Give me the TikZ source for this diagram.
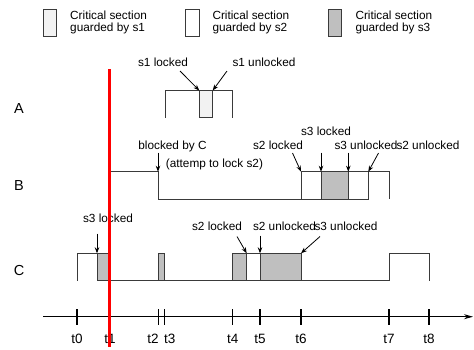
\documentclass[tikz,border=0pt]{standalone}
\usepackage{fontspec}
\setmainfont{Liberation Sans}
\usetikzlibrary{arrows.meta}
\definecolor{wavec}{HTML}{3A3A3A}
\definecolor{sone}{HTML}{F2F2F2}
\definecolor{sthree}{HTML}{BFBFBF}
\begin{document}
\begin{tikzpicture}[x=1pt,y=-1pt,
  wave/.style={draw=wavec, line width=0.9pt},
  crit/.style={draw=wavec, line width=0.9pt},
  lbl/.style={font=\fontsize{11.8}{12}\selectfont, anchor=base, inner sep=0pt},
  rowlbl/.style={font=\fontsize{14.5}{16}\selectfont, anchor=base, inner sep=0pt},
  tlbl/.style={font=\fontsize{13.5}{15}\selectfont, anchor=base, inner sep=0pt},
  legtxt/.style={font=\fontsize{11.8}{12}\selectfont, align=left, anchor=west, inner sep=0pt},
  legbox/.style={draw=wavec, line width=0.9pt, minimum width=13.3pt, minimum height=26.7pt, inner sep=0pt},
  arr/.style={draw=black, line width=0.8pt, -{Stealth[length=6pt,width=4.5pt]}},
  tick/.style={draw=black, line width=1.1pt}
]
\useasboundingbox (0,0) rectangle (474,349);
\fill[white] (0,0) rectangle (474,349);

% legend
\node[legbox, fill=sone] (lb1) at (49.7,22.7) {};
\node[legtxt] (lt1) at (70,22.7) {Critical section\\guarded by s1};
\node[legbox, fill=white] (lb2) at (192.3,22.7) {};
\node[legtxt] (lt2) at (212.3,22.7) {Critical section\\guarded by s2};
\node[legbox, fill=sthree] (lb3) at (334.7,22.7) {};
\node[legtxt] (lt3) at (355.3,22.7) {Critical section\\guarded by s3};

% row labels
\node[rowlbl] (rA) at (19,113.3) {A};
\node[rowlbl] (rB) at (19,190.7) {B};
\node[rowlbl] (rC) at (19,275.3) {C};

% ---- row A
\draw[wave] (165,117.5) -- (165,90.5) -- (232.7,90.5) -- (232.7,117.5);
\draw[crit, fill=sone] (199.3,90.5) rectangle (212.7,117.5);
\coordinate (aL) at (199.3,90.5);
\coordinate (aU) at (212.7,90.5);
\node[lbl] (s1l) at (163,66.7) {s1 locked};
\node[lbl] (s1u) at (264,66.7) {s1 unlocked};
\coordinate (s1ls) at (180,71);
\coordinate (s1us) at (227,71);
\draw[arr] (s1ls) -- (aL);
\draw[arr] (s1us) -- (aU);

% ---- row B
\draw[wave] (110,171.7) -- (158,171.7) -- (158,199) -- (301,199);
\draw[crit, fill=white] (301,171.7) rectangle (321,199);
\draw[crit, fill=sthree] (321,171.7) rectangle (348.3,199);
\draw[crit, fill=white] (348.3,171.7) rectangle (368.3,199);
\draw[wave] (368.3,171.7) -- (389,171.7) -- (389,199);
\node[lbl] (blk) at (172.5,149.3) {blocked by C};
\node[lbl, anchor=base west] (att) at (165.7,167.7) {(attemp to lock s2)};
\node[lbl] (bs2l) at (278,149.3) {s2 locked};
\node[lbl] (bs3l) at (326,135) {s3 locked};
\node[lbl] (bs3u) at (366,149.3) {s3 unlocked};
\node[lbl] (bs2u) at (428,149.3) {s2 unlocked};
\coordinate (blkS) at (158,152.5);
\coordinate (blkT) at (158,171.7);
\coordinate (bs2lS) at (292.5,153);
\coordinate (bs2lT) at (301,171.7);
\coordinate (bs3lS) at (321,152.5);
\coordinate (bs3lT) at (321,171.7);
\coordinate (bs3uS) at (348.3,152.5);
\coordinate (bs3uT) at (348.3,171.7);
\coordinate (bs2uS) at (378.5,153);
\coordinate (bs2uT) at (368.3,171.7);
\draw[arr] (blkS) -- (blkT);
\draw[arr] (bs2lS) -- (bs2lT);
\draw[arr] (bs3lS) -- (bs3lT);
\draw[arr] (bs3uS) -- (bs3uT);
\draw[arr] (bs2uS) -- (bs2uT);

% ---- row C
\draw[wave] (77,280.7) -- (77,253.3) -- (97,253.3);
\draw[wave] (97,280.7) -- (389,280.7) -- (389,253.3) -- (429,253.3) -- (429,280.7);
\draw[crit, fill=sthree] (97,253.3) rectangle (110.7,280.7);
\draw[crit, fill=sthree] (158.3,253.3) rectangle (164.7,280.7);
\draw[crit, fill=sthree] (232.7,253.3) rectangle (246.7,280.7);
\draw[crit, fill=white] (246.7,253.3) rectangle (260,280.7);
\draw[crit, fill=sthree] (260,253.3) rectangle (301,280.7);
\node[lbl] (cs3l) at (108,222.3) {s3 locked};
\node[lbl] (cs2l) at (217,230) {s2 locked};
\node[lbl] (cs2u) at (284.5,230) {s2 unlocked};
\node[lbl] (cs3u) at (346,230) {s3 unlocked};
\coordinate (cs3lS) at (97,233.5);
\coordinate (cs3lT) at (97,253.3);
\coordinate (cs2lS) at (237,236.5);
\coordinate (cs2lT) at (246.7,253.3);
\coordinate (cs2uS) at (260,235.5);
\coordinate (cs2uT) at (260,253.3);
\coordinate (cs3uS) at (320,236.5);
\coordinate (cs3uT) at (301,253.3);
\draw[arr] (cs3lS) -- (cs3lT);
\draw[arr] (cs2lS) -- (cs2lT);
\draw[arr] (cs2uS) -- (cs2uT);
\draw[arr] (cs3uS) -- (cs3uT);

% ---- time axis
\coordinate (ax0) at (43,316.7);
\coordinate (ax1) at (473,316.7);
\draw[line width=1.1pt, -{Stealth[length=9pt,width=5pt]}] (ax0) -- (ax1);
\foreach \n/\x/\lx in {0/77/77, 1/110/110, 2/158.5/153, 3/164.8/169.7, 4/232.7/232.7, 5/260/260, 6/301/301, 7/389/389, 8/429/429}{
  \coordinate (tk\n) at (\x,316.7);
  \draw[tick] (\x,309) -- (\x,324.5);
  \node[tlbl] (tl\n) at (\lx,343.3) {t\n};
}

% red marker at t1
\coordinate (redT) at (109.7,69);
\coordinate (redB) at (109.7,347);
\draw[red, line width=2.6pt] (redT) -- (redB);
\end{tikzpicture}
\end{document}
